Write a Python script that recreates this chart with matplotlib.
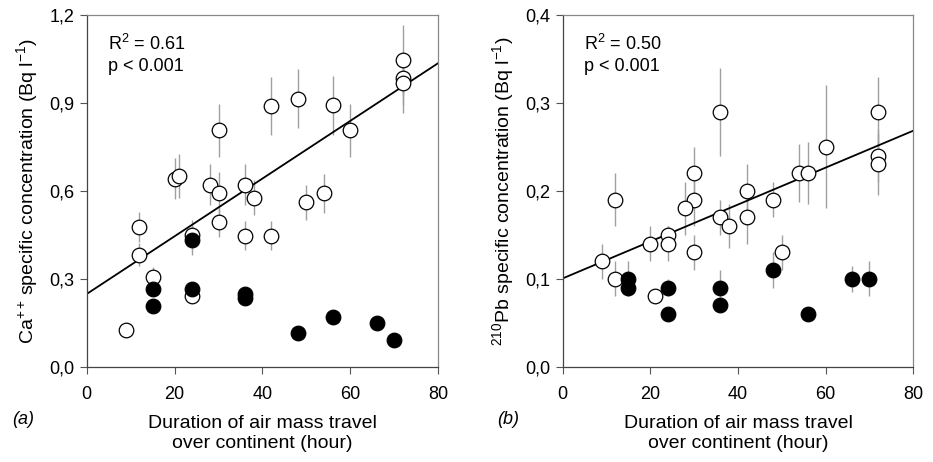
import numpy as np
import matplotlib
matplotlib.use("Agg")
import matplotlib.pyplot as plt
from matplotlib.ticker import FuncFormatter

plt.rcParams['font.family'] = ['Liberation Sans', 'DejaVu Sans']
plt.rcParams['mathtext.fontset'] = 'custom'
plt.rcParams['mathtext.rm'] = 'Liberation Sans'

# ----- Panel (a): Ca++ -----
ca_open_x = [9, 12, 12, 15, 20, 21, 24, 24, 28, 30, 30, 30, 36, 36, 38, 42, 42, 48, 50, 54, 56, 60, 72, 72, 72]
ca_open_y = [0.125, 0.477, 0.382, 0.306, 0.642, 0.65, 0.45, 0.24, 0.62, 0.593, 0.807, 0.493, 0.62, 0.447, 0.576,
             0.889, 0.447, 0.914, 0.561, 0.591, 0.892, 0.807, 1.047, 0.984, 0.967]
ca_open_err = [0.01, 0.05, 0.04, 0.035, 0.07, 0.075, 0.05, 0.02, 0.07, 0.07, 0.09, 0.05, 0.07, 0.05, 0.06,
               0.10, 0.05, 0.10, 0.06, 0.065, 0.10, 0.09, 0.12, 0.09, 0.10]
ca_solid_x = [15, 15, 24, 24, 36, 36, 48, 56, 66, 70]
ca_solid_y = [0.266, 0.208, 0.431, 0.265, 0.249, 0.233, 0.116, 0.171, 0.149, 0.090]
ca_solid_err = [0.01, 0.01, 0.05, 0.01, 0.01, 0.01, 0.01, 0.01, 0.01, 0.01]
ca_fit = (0.248, 0.00985)   # intercept, slope

# ----- Panel (b): 210Pb -----
pb_open_x = [12, 36, 72, 60, 72, 72, 54, 56, 30, 30, 28, 42, 48, 36, 38, 42, 24, 24, 20, 30, 50, 9, 12, 21]
pb_open_y = [0.19, 0.29, 0.29, 0.25, 0.24, 0.23, 0.22, 0.22, 0.22, 0.19, 0.18, 0.20, 0.19, 0.17, 0.16, 0.17,
             0.15, 0.14, 0.14, 0.13, 0.13, 0.12, 0.10, 0.08]
pb_open_err = [0.03, 0.05, 0.04, 0.07, 0.03, 0.035, 0.033, 0.035, 0.03, 0.03, 0.03, 0.03, 0.02, 0.02, 0.025, 0.03,
               0.01, 0.02, 0.02, 0.02, 0.02, 0.02, 0.02, 0.005]
pb_solid_x = [15, 15, 24, 24, 36, 36, 48, 56, 66, 70]
pb_solid_y = [0.10, 0.09, 0.09, 0.06, 0.09, 0.07, 0.11, 0.06, 0.10, 0.10]
pb_solid_err = [0.02, 0.01, 0.01, 0.005, 0.02, 0.005, 0.02, 0.005, 0.015, 0.02]
pb_fit = (0.1004, 0.0021)

fig = plt.figure(figsize=(9.33, 4.62), dpi=100)
ax_a = fig.add_axes([0.0929, 0.2063, 0.3769, 0.7613])
ax_b = fig.add_axes([0.6031, 0.2063, 0.3758, 0.7613])

comma = FuncFormatter(lambda v, p: f"{v:.1f}".replace('.', ','))


def draw(ax, ox, oy, oe, sx, sy, se, fit, ymax, ystep, ylabel, stats):
    ax.errorbar(sx, sy, yerr=se, fmt='none', ecolor='#a0a0a0', elinewidth=1, zorder=1)
    ax.errorbar(ox, oy, yerr=oe, fmt='none', ecolor='#a0a0a0', elinewidth=1, zorder=1)
    xx = np.array([0, 80])
    ax.plot(xx, fit[0] + fit[1] * xx, color='black', lw=1.3, zorder=2)
    ax.plot(ox, oy, 'o', ms=10.5, mfc='white', mec='black', mew=0.9, zorder=3)
    ax.plot(sx, sy, 'o', ms=10.5, mfc='black', mec='black', mew=0.9, zorder=4)
    ax.set_xlim(0, 80)
    ax.set_ylim(0, ymax)
    ax.set_xticks([0, 20, 40, 60, 80])
    ax.set_yticks(np.arange(0, ymax + 1e-9, ystep))
    ax.yaxis.set_major_formatter(comma)
    ax.tick_params(direction='out', length=5, width=0.8, colors='#555555', labelcolor='black',
                   labelsize=13, pad=4)
    ax.tick_params(axis='x', pad=9)
    for s in ax.spines.values():
        s.set_color('#888888')
        s.set_linewidth(0.9)
    ax.spines['left'].set_color('#444444')
    ax.spines['bottom'].set_color('#444444')
    ax.set_ylabel(ylabel, fontsize=14, labelpad=6)
    ax.text(0.06, 0.945, stats, transform=ax.transAxes, fontsize=13, va='top', ha='left',
            linespacing=1.25)


draw(ax_a, ca_open_x, ca_open_y, ca_open_err, ca_solid_x, ca_solid_y, ca_solid_err, ca_fit,
     1.2, 0.3, r'Ca$^{++}\!$ specific concentration (Bq l$^{-1}$)', 'R$^2$ = 0.61\np < 0.001')
draw(ax_b, pb_open_x, pb_open_y, pb_open_err, pb_solid_x, pb_solid_y, pb_solid_err, pb_fit,
     0.4, 0.1, r'$^{210}$Pb specific concentration (Bq l$^{-1}$)', 'R$^2$ = 0.50\np < 0.001')

xlab = "Duration of air mass travel\nover continent (hour)"
fig.text(0.2814, 0.062, xlab, ha='center', va='center', fontsize=14, linespacing=1.2)
fig.text(0.791, 0.062, xlab, ha='center', va='center', fontsize=14, linespacing=1.2)
fig.text(0.013, 0.091, '(a)', style='italic', fontsize=13, va='center')
fig.text(0.533, 0.091, '(b)', style='italic', fontsize=13, va='center')

fig.savefig("out.png", dpi=100)
